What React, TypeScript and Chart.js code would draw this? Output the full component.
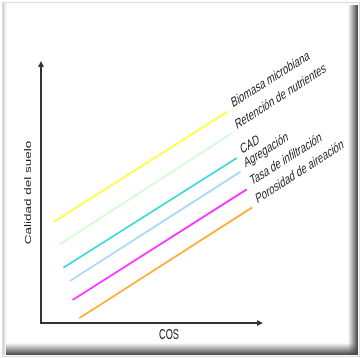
import React, { useEffect, useRef } from "react";
import { Chart, registerables } from "chart.js";

Chart.register(...registerables);

// ---- data ----
const seriesNames = [
  "Biomasa microbiana",
  "Retención de nutrientes",
  "CAD",
  "Agregación",
  "Tasa de infiltración",
  "Porosidad de aireación",
];
const seriesColors = ["#ffff33", "#d2fcd2", "#3ad8d8", "#a9d9f7", "#ff30ff", "#ffac38"];
const startX = [0.59, 0.86, 1.01, 1.31, 1.43, 1.73];
const startY = [3.88, 3.02, 2.12, 1.61, 0.88, 0.18];
const endX = [8.45, 8.63, 8.86, 9.03, 9.31, 9.56];
const endY = [8.1, 7.27, 6.32, 5.8, 5.12, 4.43];
const xTitle = "COS";
const yTitle = "Calidad del suelo";

const SQ = 0.66; // horizontal squeeze of text
const FONT = '14px "Liberation Sans", Arial, sans-serif';
const YFONT = '13.5px "Liberation Sans", Arial, sans-serif';

const framePlugin = {
  id: "frame",
  beforeDraw(chart: any) {
    const ctx = chart.ctx as CanvasRenderingContext2D;
    const W = chart.width;
    const H = chart.height;
    ctx.save();
    ctx.fillStyle = "#ffffff";
    ctx.fillRect(0, 0, W, H);
    ctx.strokeStyle = "#dcdcdc";
    ctx.lineWidth = 1;
    ctx.strokeRect(2.5, 2.5, W - 4, H - 4);
    let g = ctx.createLinearGradient(3, 0, 8, 0);
    g.addColorStop(0, "#c4c4c4");
    g.addColorStop(1, "rgba(255,255,255,0)");
    ctx.fillStyle = g;
    ctx.fillRect(3, 3, 5, H - 6);
    g = ctx.createLinearGradient(348, 0, 358, 0);
    g.addColorStop(0, "rgba(80,80,80,0)");
    g.addColorStop(1, "rgba(70,70,70,1)");
    ctx.fillStyle = g;
    ctx.fillRect(348, 5, 10, H - 8);
    g = ctx.createLinearGradient(0, 343, 0, 355);
    g.addColorStop(0, "rgba(80,80,80,0)");
    g.addColorStop(1, "rgba(70,70,70,1)");
    ctx.fillStyle = g;
    ctx.fillRect(6, 343, W - 9, 12);
    ctx.restore();
  },
};

const annotPlugin = {
  id: "annot",
  afterDatasetsDraw(chart: any) {
    const ctx = chart.ctx as CanvasRenderingContext2D;
    const { left, right, top, bottom } = chart.chartArea;
    ctx.save();
    ctx.strokeStyle = "#333333";
    ctx.fillStyle = "#333333";
    ctx.lineWidth = 2;
    ctx.beginPath();
    ctx.moveTo(left, top + 3);
    ctx.lineTo(left, bottom);
    ctx.lineTo(right - 3, bottom);
    ctx.stroke();
    ctx.beginPath();
    ctx.moveTo(left, top - 1);
    ctx.lineTo(left - 3, top + 5);
    ctx.lineTo(left + 3, top + 5);
    ctx.closePath();
    ctx.fill();
    ctx.beginPath();
    ctx.moveTo(right + 1, bottom);
    ctx.lineTo(right - 5, bottom - 3);
    ctx.lineTo(right - 5, bottom + 3);
    ctx.closePath();
    ctx.fill();

    ctx.fillStyle = "#222222";
    ctx.font = FONT;
    ctx.save();
    ctx.translate(169, 338.5);
    ctx.scale(SQ, 1);
    ctx.textAlign = "center";
    ctx.textBaseline = "alphabetic";
    ctx.fillText(xTitle, 0, 0);
    ctx.restore();

    ctx.save();
    ctx.font = YFONT;
    ctx.translate(31, (top + bottom) / 2);
    ctx.scale(SQ, 1);
    ctx.rotate(-Math.PI / 2);
    ctx.textAlign = "center";
    ctx.textBaseline = "alphabetic";
    ctx.fillText(yTitle, 0, 0);
    ctx.restore();

    chart.data.datasets.forEach((ds: any, i: number) => {
      const meta = chart.getDatasetMeta(i);
      const p0 = meta.data[0];
      const p1 = meta.data[meta.data.length - 1];
      const dx = p1.x - p0.x;
      const dy = p1.y - p0.y;
      const ang = Math.atan2(dy, dx / SQ);
      ctx.save();
      ctx.translate(p1.x + 5, p1.y - 4);
      ctx.scale(SQ, 1);
      ctx.rotate(ang);
      ctx.textAlign = "left";
      ctx.textBaseline = "alphabetic";
      ctx.fillText(ds.label, 0, 0);
      ctx.restore();
    });
    ctx.restore();
  },
};

export default function App() {
  const ref = useRef<HTMLCanvasElement | null>(null);
  useEffect(() => {
    if (!ref.current) return;
    const chart = new Chart(ref.current, {
      type: "line",
      data: {
        datasets: seriesNames.map((name, i) => ({
          label: name,
          data: [
            { x: startX[i], y: startY[i] },
            { x: endX[i], y: endY[i] },
          ],
          borderColor: seriesColors[i],
          backgroundColor: seriesColors[i],
          borderWidth: 1.8,
          pointRadius: 0,
          tension: 0,
          clip: false as any,
        })),
      },
      options: {
        animation: false,
        responsive: false,
        devicePixelRatio: 1,
        layout: { padding: { left: 41, top: 62, right: 99, bottom: 35 } },
        plugins: { legend: { display: false }, tooltip: { enabled: false } },
        events: [],
        scales: {
          x: { type: "linear", min: 0, max: 10, display: false },
          y: { type: "linear", min: 0, max: 10, display: false },
        },
      },
      plugins: [framePlugin, annotPlugin],
    });
    return () => chart.destroy();
  }, []);
  return (
    <div style={{ position: "fixed", left: 0, top: 0, width: 361, height: 358 }}>
      <canvas ref={ref} width={361} height={358} style={{ display: "block" }} />
    </div>
  );
}
